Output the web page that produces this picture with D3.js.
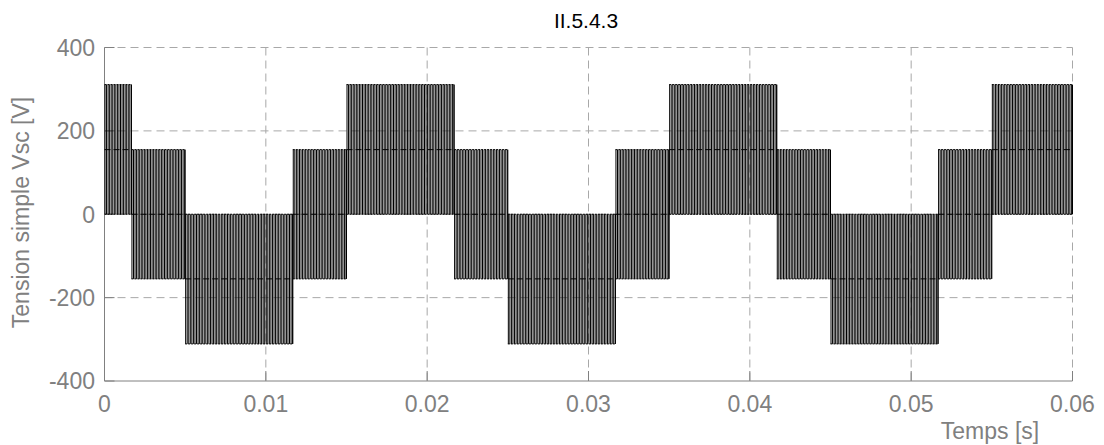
<!DOCTYPE html>
<html>
<head>
<meta charset="utf-8">
<script src="https://cdn.jsdelivr.net/npm/d3@7"></script>
<style>
body { margin: 0; background: #fff; }
text { font-family: "Liberation Sans", Arial, sans-serif; }
</style>
</head>
<body>
<svg id="chart" width="1104" height="445"></svg>
<script>
// blocks of the PWM phase voltage
var segStart = [0, 0.00167, 0.005, 0.01167, 0.015, 0.02167, 0.025, 0.03167, 0.035, 0.04167, 0.045, 0.05167, 0.055];
var segEnd   = [0.00167, 0.005, 0.01167, 0.015, 0.02167, 0.025, 0.03167, 0.035, 0.04167, 0.045, 0.05167, 0.055, 0.06];
var segHigh  = [311, 155, 0, 155, 311, 155, 0, 155, 311, 155, 0, 155, 311];
var segMid   = [155, 0, -155, 0, 155, 0, -155, 0, 155, 0, -155, 0, 155];
var segLow   = [0, -155, -311, -155, 0, -155, -311, -155, 0, -155, -311, -155, 0];

var xTicks = [0, 0.01, 0.02, 0.03, 0.04, 0.05, 0.06];
var xTickLabels = ["0", "0.01", "0.02", "0.03", "0.04", "0.05", "0.06"];
var yTicks = [-400, -200, 0, 200, 400];

var svg = d3.select("#chart");
var grey = "#808080";

var x = d3.scaleLinear().domain([0, 0.06]).range([104.5, 1072.5]);
var y = d3.scaleLinear().domain([-400, 400]).range([381, 47.5]);

// grid
svg.append("g").selectAll("line")
    .data(xTicks.slice(1))
    .enter().append("line")
    .attr("x1", d => x(d)).attr("x2", d => x(d))
    .attr("y1", y(400)).attr("y2", y(-400))
    .attr("stroke", "#a8a8a8").attr("stroke-dasharray", "8,5");

svg.append("g").selectAll("line")
    .data(yTicks.slice(1))
    .enter().append("line")
    .attr("x1", x(0)).attr("x2", x(0.06))
    .attr("y1", d => y(d)).attr("y2", d => y(d))
    .attr("stroke", "#a8a8a8").attr("stroke-dasharray", "8,5");

// axes lines + inward ticks
var axes = svg.append("g").attr("stroke", grey).attr("fill", "none");
axes.append("line").attr("x1", x(0)).attr("x2", x(0)).attr("y1", y(400)).attr("y2", y(-400));
axes.append("line").attr("x1", x(0)).attr("x2", x(0.06)).attr("y1", y(-400)).attr("y2", y(-400));
axes.selectAll(".xt").data(xTicks).enter().append("line")
    .attr("x1", d => x(d)).attr("x2", d => x(d))
    .attr("y1", y(-400)).attr("y2", y(-400) - 10);
axes.selectAll(".yt").data(yTicks).enter().append("line")
    .attr("x1", x(0)).attr("x2", x(0) + 10)
    .attr("y1", d => y(d)).attr("y2", d => y(d));

// waveform blocks
var segs = segStart.map((s, i) => ({s: s, e: segEnd[i], hi: segHigh[i], mid: segMid[i], lo: segLow[i]}));
var wave = svg.append("g");
var pitch = 1.55;

segs.forEach(function(d) {
    var x0 = x(d.s), x1 = x(d.e);
    var g = wave.append("g");
    // dense switching edges
    g.selectAll("line")
        .data(d3.range(x0 + 0.5, x1, pitch))
        .enter().append("line")
        .attr("x1", p => p).attr("x2", p => p)
        .attr("y1", y(d.hi)).attr("y2", y(d.lo))
        .attr("stroke", "#000").attr("stroke-width", 1);
    g.append("line").attr("x1", x1).attr("x2", x1)
        .attr("y1", y(d.hi)).attr("y2", y(d.lo)).attr("stroke", "#000");
    [d.hi, d.lo].forEach(function(v) {
        g.append("line")
            .attr("x1", x0).attr("x2", x1)
            .attr("y1", y(v)).attr("y2", y(v))
            .attr("stroke", "#000").attr("stroke-width", 1)
            .attr("stroke-dasharray", "2,1");
    });
    g.append("line")
        .attr("x1", x0).attr("x2", x1)
        .attr("y1", y(d.mid)).attr("y2", y(d.mid))
        .attr("stroke", "#000").attr("stroke-width", 1)
        .attr("stroke-dasharray", "6,3");
});

// tick labels
svg.append("g").selectAll("text")
    .data(xTicks)
    .enter().append("text")
    .attr("x", d => x(d)).attr("y", 411.5)
    .attr("text-anchor", "middle")
    .attr("font-size", 23).attr("fill", grey)
    .text((d, i) => xTickLabels[i]);

svg.append("g").selectAll("text")
    .data(yTicks)
    .enter().append("text")
    .attr("x", 95).attr("y", d => y(d) + 8.3)
    .attr("text-anchor", "end")
    .attr("font-size", 23).attr("fill", grey)
    .text(d => d);

// labels
svg.append("text")
    .attr("transform", "translate(28.5,212.5) rotate(-90)")
    .attr("text-anchor", "middle")
    .attr("font-size", 23).attr("fill", grey)
    .text("Tension simple Vsc [V]");

svg.append("text")
    .attr("x", 990).attr("y", 439)
    .attr("text-anchor", "middle")
    .attr("font-size", 23).attr("fill", grey)
    .text("Temps [s]");

svg.append("text")
    .attr("x", 586).attr("y", 28)
    .attr("text-anchor", "middle")
    .attr("font-size", 21).attr("fill", "#000")
    .text("II.5.4.3");
</script>
</body>
</html>
